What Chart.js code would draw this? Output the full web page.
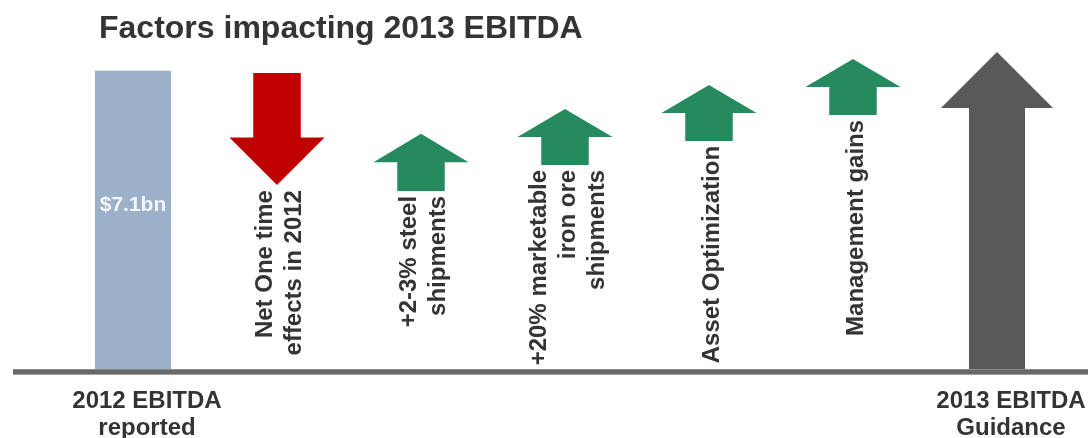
<!DOCTYPE html>
<html>
<head>
<meta charset="utf-8">
<script src="https://cdn.jsdelivr.net/npm/chart.js@4/dist/chart.umd.min.js"></script>
<style>
  html, body { margin: 0; padding: 0; background: #ffffff; }
  #wrap { position: relative; width: 1088px; height: 438px; }
</style>
</head>
<body>
<div id="wrap"><canvas id="chart"></canvas></div>
<script>
// EBITDA bridge: 2012 reported -> 2013 guidance, one slot per factor
const categories = [
  '2012 EBITDA reported',
  'Net One time effects in 2012',
  '+2-3% steel shipments',
  '+20% marketable iron ore shipments',
  'Asset Optimization',
  'Management gains',
  '2013 EBITDA Guidance'
];
const axisLabels = [['2012 EBITDA', 'reported'], '', '', '', '', '', ['2013 EBITDA', 'Guidance']];
const factorLabels = [
  null,
  ['Net One time', 'effects in 2012'],
  ['+2-3% steel', 'shipments'],
  ['+20% marketable', 'iron ore', 'shipments'],
  ['Asset Optimization'],
  ['Management gains'],
  null
];

// values in US$ bn
const reported     = [7.1, null, null, null, null, null, null];
const factorFrom   = [null, 7.05, 4.24, 4.86, 5.43, 6.05, null];
const factorTo     = [null, 4.38, 5.60, 6.19, 6.76, 7.38, null];
const guidanceFrom = [null, null, null, null, null, null, 0];
const guidanceTo   = [null, null, null, null, null, null, 7.55];

const FONT = '"Liberation Sans", Arial, Helvetica, sans-serif';
const TEXT = '#343434';

const pairs = (from, to) => from.map((f, i) => (f === null ? null : [f, to[i]]));

// Block arrows drawn over the (transparent) floating bars of arrow datasets
const blockArrows = {
  id: 'blockArrows',
  afterDatasetsDraw(chart) {
    const ctx = chart.ctx;
    const yScale = chart.scales.y;
    chart.data.datasets.forEach((ds, di) => {
      if (!ds.arrow) return;
      const meta = chart.getDatasetMeta(di);
      meta.data.forEach((el, i) => {
        const v = ds.data[i];
        if (!v) return;
        const p0 = yScale.getPixelForValue(v[0]);
        const p1 = yScale.getPixelForValue(v[1]);
        const headW = el.width;
        const shaftW = headW * 0.5;
        const dir = p1 > p0 ? 1 : -1;
        const headLen = 0.5 * Math.min(headW, Math.abs(p1 - p0));
        const neck = p1 - dir * headLen;
        const x = el.x;
        ctx.save();
        ctx.beginPath();
        ctx.moveTo(x - shaftW / 2, p0);
        ctx.lineTo(x - shaftW / 2, neck);
        ctx.lineTo(x - headW / 2, neck);
        ctx.lineTo(x, p1);
        ctx.lineTo(x + headW / 2, neck);
        ctx.lineTo(x + shaftW / 2, neck);
        ctx.lineTo(x + shaftW / 2, p0);
        ctx.closePath();
        ctx.fillStyle = ds.arrowColor(v);
        ctx.fill();
        ctx.restore();
      });
    });
  }
};

// Title, value label, baseline and the rotated factor captions
const annotations = {
  id: 'annotations',
  afterDraw(chart) {
    const ctx = chart.ctx;
    const xScale = chart.scales.x;
    const yScale = chart.scales.y;
    const zero = yScale.getPixelForValue(0);

    ctx.save();
    // baseline
    ctx.fillStyle = '#8a8a8a';
    ctx.fillRect(13, zero, chart.width - 13, 1);
    ctx.fillStyle = '#686868';
    ctx.fillRect(13, zero + 1, chart.width - 13, 4);
    ctx.fillStyle = '#a0a0a0';
    ctx.fillRect(13, zero + 5, chart.width - 13, 1);

    // title
    ctx.fillStyle = TEXT;
    ctx.font = 'bold 32px ' + FONT;
    ctx.textAlign = 'left';
    ctx.textBaseline = 'alphabetic';
    ctx.fillText('Factors impacting 2013 EBITDA', 99, 38);

    // value inside the 2012 bar
    const barMeta = chart.getDatasetMeta(0);
    reported.forEach((v, i) => {
      if (v === null) return;
      const el = barMeta.data[i];
      ctx.fillStyle = '#f3f5f8';
      ctx.font = 'bold 21px ' + FONT;
      ctx.textAlign = 'center';
      ctx.textBaseline = 'middle';
      ctx.fillText('$' + v.toFixed(1) + 'bn', el.x, yScale.getPixelForValue(v * 0.55));
    });

    // rotated captions under each factor arrow
    ctx.fillStyle = TEXT;
    ctx.font = 'bold 24px ' + FONT;
    ctx.textAlign = 'right';
    ctx.textBaseline = 'middle';
    const lineH = 29;
    factorLabels.forEach((lines, i) => {
      if (!lines) return;
      const lowest = Math.max(yScale.getPixelForValue(factorFrom[i]), yScale.getPixelForValue(factorTo[i]));
      const cx = xScale.getPixelForValue(i) + 3;
      ctx.save();
      ctx.translate(cx, lowest + 5);
      ctx.rotate(-Math.PI / 2);
      lines.forEach((line, j) => {
        ctx.fillText(line, 0, (j - (lines.length - 1) / 2) * lineH);
      });
      ctx.restore();
    });
    ctx.restore();
  }
};

new Chart(document.getElementById('chart'), {
  type: 'bar',
  data: {
    labels: categories,
    datasets: [
      {
        label: '2012 EBITDA',
        data: reported,
        backgroundColor: '#9bb0c9',
        barPercentage: 0.528,
        categoryPercentage: 1
      },
      {
        label: 'Factors',
        data: pairs(factorFrom, factorTo),
        arrow: true,
        arrowColor: v => (v[1] < v[0] ? '#c00000' : '#268a5e'),
        backgroundColor: 'rgba(0,0,0,0)',
        barPercentage: 0.66,
        categoryPercentage: 1
      },
      {
        label: '2013 EBITDA Guidance',
        data: pairs(guidanceFrom, guidanceTo),
        arrow: true,
        arrowColor: () => '#595959',
        backgroundColor: 'rgba(0,0,0,0)',
        barPercentage: 0.778,
        categoryPercentage: 1
      }
    ]
  },
  options: {
    responsive: true,
    maintainAspectRatio: false,
    animation: false,
    layout: { padding: { top: 33, left: 61, right: 19, bottom: 0 } },
    plugins: {
      legend: { display: false },
      tooltip: { enabled: false },
      title: { display: false }
    },
    scales: {
      x: {
        type: 'category',
        offset: true,
        stacked: true,
        grid: { display: false },
        border: { display: false },
        ticks: {
          autoSkip: false,
          maxRotation: 0,
          minRotation: 0,
          padding: 11,
          labelOffset: 14,
          color: TEXT,
          font: { family: FONT, size: 24, weight: 'bold', lineHeight: 1.125 },
          callback: (value, index) => axisLabels[index]
        },
        afterFit: scale => {
          scale.height = 69;
          scale.paddingLeft = 0;
          scale.paddingRight = 0;
        }
      },
      y: {
        display: false,
        min: 0,
        max: 8
      }
    }
  },
  plugins: [blockArrows, annotations]
});
</script>
</body>
</html>
